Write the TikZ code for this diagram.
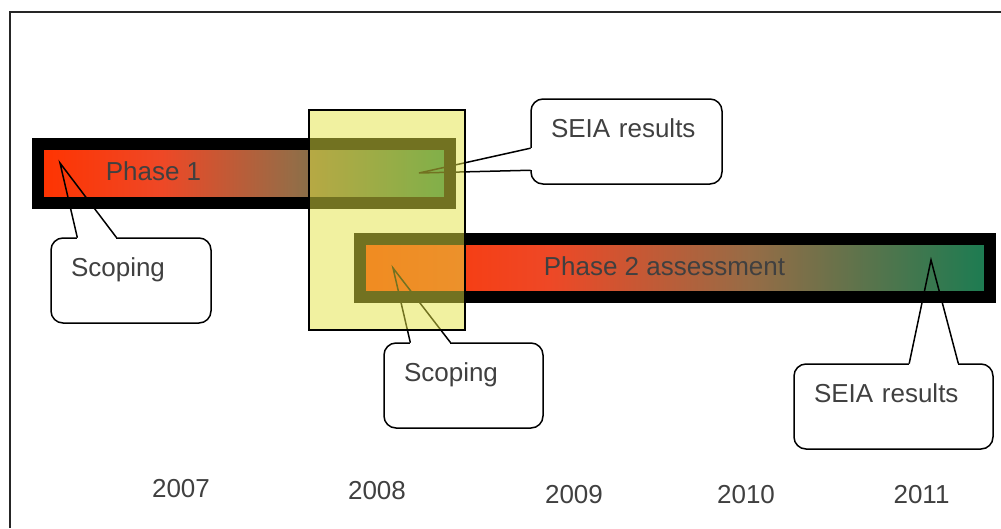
\documentclass[tikz,border=0pt]{standalone}
\usepackage{fontspec}
\setmainfont{Liberation Sans}
\usetikzlibrary{calc}

\definecolor{txtgrey}{RGB}{64,64,64}
\definecolor{barred}{RGB}{255,51,0}
\definecolor{barorange}{RGB}{238,72,38}
\definecolor{barbrown}{RGB}{150,108,70}
\definecolor{bargreen}{RGB}{26,124,82}
\definecolor{hlyellow}{RGB}{228,228,66}

\pgfdeclarehorizontalshading{phasegrad}{100bp}{color(0bp)=(barred); color(25bp)=(barred);
  color(40bp)=(barorange); color(56bp)=(barbrown); color(75bp)=(bargreen); color(100bp)=(bargreen)}

\begin{document}
\begin{tikzpicture}[x=1pt, y=-1pt, font=\fontsize{26pt}{31pt}\selectfont]
  \tikzstyle{phasebar}=[draw, line width=12pt, shade, shading=phasegrad, inner sep=0pt]
  \tikzstyle{txt}=[text=txtgrey, inner sep=0pt, anchor=base]
  \tikzstyle{callbox}=[draw=black, line width=1.5pt, rounded corners=12pt, text=txtgrey,
                       align=left, inner xsep=20pt, inner ysep=0pt,
                       text height=38pt, text depth=47pt]
  \tikzstyle{gap}=[draw=white, line width=3pt]
  \tikzstyle{pointer}=[draw=black, line width=1.5pt, line cap=round]
  \tikzstyle{highlight}=[draw=black, line width=1.5pt, fill=hlyellow, fill opacity=0.5,
                         draw opacity=1, inner sep=0pt]

  \useasboundingbox (0,0) rectangle (1001,528);
  \draw[line width=1.5pt, black!85] (10,528) |- (1001,12);

  % the two phases
  \node[phasebar, minimum width=412pt, minimum height=59pt] (p1bar) at (244,173.5) {};
  \node[phasebar, minimum width=630pt, minimum height=58pt] (p2bar) at (675,268) {};
  \node[txt] (p1lbl) at (153.5,180) {Phase 1};
  \node[txt] (p2lbl) at (664.5,275) {Phase 2 assessment};

  % callouts
  \coordinate (sc1tip)  at (60,163);
  \coordinate (sc2tip)  at (393,268);
  \coordinate (res1tip) at (419,173);
  \coordinate (res2tip) at (931,260);

  \node[callbox, text width=120pt] (sc1)  at (131,280.5)   {Scoping};
  \node[callbox, text width=119pt] (sc2)  at (463.5,385.5) {Scoping};
  \node[callbox, text width=151pt] (res1) at (626.5,141.5) {SEIA results};
  \node[callbox, text width=159pt] (res2) at (893.5,406.5) {SEIA results};

  \path[gap] ($(sc1.north west)+(27,0)$) -- ($(sc1.north west)+(66,0)$);
  \path[pointer] ($(sc1.north west)+(27,0)$) -- (sc1tip) -- ($(sc1.north west)+(66,0)$);
  \path[gap] ($(sc2.north west)+(27,0)$) -- ($(sc2.north west)+(67,0)$);
  \path[pointer] ($(sc2.north west)+(27,0)$) -- (sc2tip) -- ($(sc2.north west)+(67,0)$);
  \path[gap] ($(res1.north west)+(0,50)$) -- ($(res1.north west)+(0,72)$);
  \path[pointer] ($(res1.north west)+(0,50)$) -- (res1tip) -- ($(res1.north west)+(0,72)$);
  \path[gap] ($(res2.north west)+(116,0)$) -- ($(res2.north west)+(165,0)$);
  \path[pointer] ($(res2.north west)+(116,0)$) -- (res2tip) -- ($(res2.north west)+(165,0)$);

  % overlap of the phases
  \node[highlight, minimum width=156pt, minimum height=220pt] (overlap) at (387,220) {};

  % years
  \node[txt] (y2007) at (181,497)   {2007};
  \node[txt] (y2008) at (377,499)   {2008};
  \node[txt] (y2009) at (574,503)   {2009};
  \node[txt] (y2010) at (746,503)   {2010};
  \node[txt] (y2011) at (921.5,503) {2011};
\end{tikzpicture}
\end{document}
